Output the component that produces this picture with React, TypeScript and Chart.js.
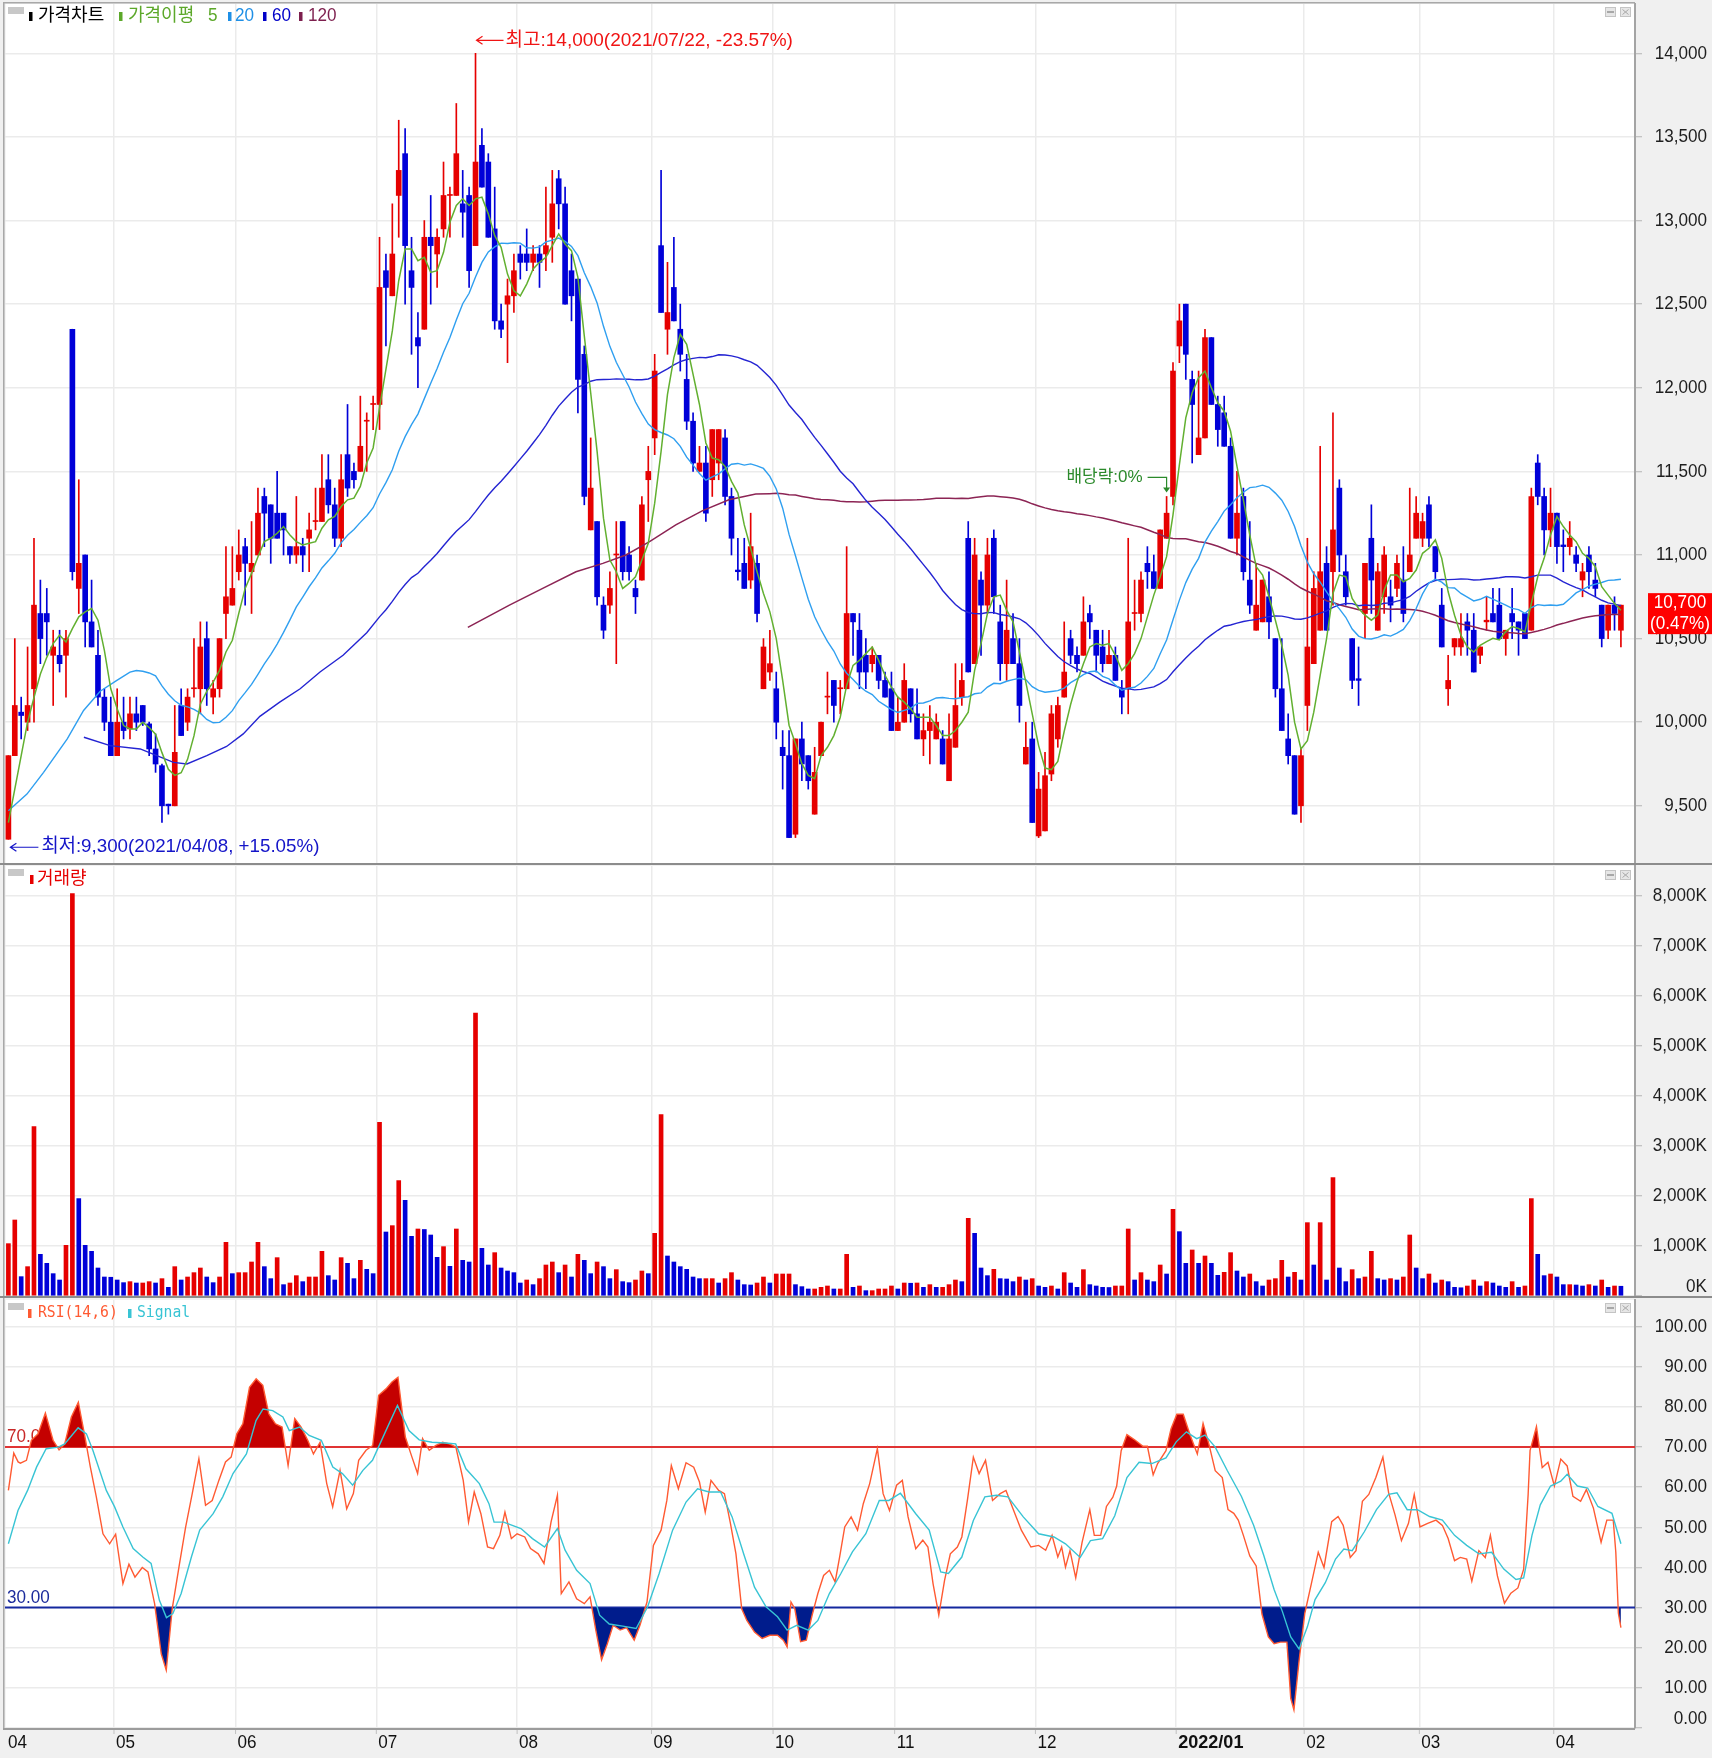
import React, { useEffect, useRef } from 'react';
import { Chart, registerables } from 'chart.js';
Chart.register(...registerables);

const W = 1712;
const X_MIN = -0.53;
const X_MAX = 254.2;
const GRID = '#ebebeb';
const UP = '#e60000';
const DOWN = '#0000d8';
const LABEL = '#1e1e1e';
const AXIS_FONT = "19px 'Liberation Sans', 'DejaVu Sans', sans-serif";
const AX_SX = 0.9;
const KR_FONT = "18px 'Liberation Sans', 'Noto Sans CJK KR', sans-serif";
const NOTE_FONT = "19px 'Liberation Sans', 'Noto Sans CJK KR', sans-serif";

const PRICE_MIN = 9158;
const PRICE_MAX = 14295;
const VOL_MAX = 8600;
const RSI_MAX = 106.65;

// ---- axis labels ----
const monthLabels = ['04', '05', '06', '07', '08', '09', '10', '11', '12', '2022/01', '02', '03', '04'];
const monthStart = [0, 17, 36, 58, 80, 101, 120, 139, 161, 183, 203, 221, 242];
const priceTicks = [9500, 10000, 10500, 11000, 11500, 12000, 12500, 13000, 13500, 14000];
const volumeTicks = [0, 1000, 2000, 3000, 4000, 5000, 6000, 7000, 8000];
const rsiTicks = [0, 10, 20, 30, 40, 50, 60, 70, 80, 90, 100];
const highDate = '2021/07/22';
const lowDate = '2021/04/08';
const dividendIdx = 181;

// ---- daily candles (2021/04/08 .. 2022/04/15) ----
const opens = [
  9300, 9800, 10060, 10000, 10200, 10650, 10650, 10400, 10400, 10400,
  12350, 10800, 11000, 10600, 10400, 10150, 10000, 9800, 10000, 9960,
  10050, 10100, 9990, 9840, 9740, 9510, 9500, 10100, 10000, 10200,
  10200, 10500, 10150, 10200, 10650, 10700, 10900, 11050, 10900, 11000,
  11350, 11300, 11250, 11250, 11050, 11000, 11050, 11100, 11200, 11200,
  11450, 11300, 11100, 11600, 11500, 11500, 11800, 11900, 11900, 12700,
  12550, 13150, 13400, 12700, 12300, 12350, 12900, 12800, 12950, 13150,
  13150, 13100, 13150, 12850, 13450, 13350, 12950, 12400, 12500, 12550,
  12800, 12800, 12750, 12800, 12800, 12900, 13250, 13100, 12700, 12650,
  12200, 11150, 11200, 10700, 10700, 11000, 11200, 11000, 10800, 10850,
  11450, 11700, 12850, 12350, 12600, 12350, 12050, 11800, 11500, 11550,
  11450, 11550, 11700, 11350, 10910, 10950, 10850, 10950, 10200, 10300,
  10200, 9850, 9800, 9330, 9900, 9800, 9450, 9800, 10150, 10250,
  10200, 10200, 10650, 10550, 10400, 10350, 10400, 10250, 10200, 9950,
  10000, 10200, 10050, 9900, 9950, 9900, 9900, 9650, 9850, 10150,
  11100, 10350, 10850, 10700, 11100, 10600, 10350, 10500, 10350, 9750,
  9900, 9320, 9350, 9690, 9900, 10150, 10500, 10400, 10400, 10650,
  10550, 10450, 10350, 10400, 10200, 10200, 10650, 10650, 10950, 10900,
  10800, 11100, 11350, 12250, 12500, 12050, 11600, 11700, 12300, 11900,
  11850, 11650, 11100, 11350, 10850, 10550, 10600, 10750, 10500, 10200,
  9900, 9800, 9500, 10100, 10350, 10550, 10950, 10900, 11400, 10900,
  10500, 10260, 10650, 11100, 10550, 10750, 10750, 10800, 10850, 10900,
  11100, 11100, 11300, 11050, 10700, 10200, 10450, 10450, 10600, 10550,
  10400, 10600, 10650, 10700, 10500, 10650, 10600, 10650, 10550, 11550,
  11350, 11150, 11250, 11060, 11050, 11000, 10850, 11000, 10850, 10700,
  10550, 10700, 10550,
];
const highs = [
  9800, 10500, 10150, 10450, 11100, 10850, 10800, 10550, 10550, 10550,
  12350, 11450, 11000, 10850, 10550, 10200, 10150, 10200, 10150, 10150,
  10150, 10100, 10000, 9930, 9750, 9510, 10100, 10200, 10200, 10500,
  10600, 10600, 10250, 10500, 11050, 11050, 11150, 11100, 11200, 11400,
  11400, 11300, 11500, 11250, 11050, 11350, 11100, 11250, 11400, 11600,
  11600, 11400, 11600, 11900, 11550, 11950, 11850, 11950, 12900, 12800,
  13100, 13600, 13550, 12900, 12450, 13000, 13150, 12950, 13350, 13200,
  13700, 13300, 13200, 14000, 13550, 13400, 13200, 12500, 12650, 12800,
  12850, 12950, 12850, 12850, 13200, 13300, 13300, 13200, 12800, 12650,
  12250, 11700, 11200, 10750, 10900, 11200, 11200, 11050, 10850, 11350,
  11650, 12200, 13300, 12750, 12900, 12500, 12200, 11850, 11650, 11650,
  11750, 11750, 11750, 11400, 11100, 11100, 11250, 11000, 10500, 10550,
  10300, 9950, 9950, 9900, 10000, 9800, 9850, 10000, 10300, 10250,
  10250, 11050, 10650, 10650, 10500, 10450, 10400, 10300, 10300, 10150,
  10350, 10200, 10200, 10050, 10100, 10050, 9950, 10050, 10350, 10350,
  11200, 11100, 10900, 11100, 11150, 10700, 10850, 10650, 10500, 10000,
  10000, 9700, 9820, 10100, 10150, 10600, 10550, 10450, 10750, 10700,
  10550, 10550, 10550, 10450, 10250, 11100, 10850, 10900, 11050, 11000,
  11150, 11350, 12150, 12500, 12500, 12100, 12100, 12350, 12300, 11950,
  11950, 11700, 11500, 11400, 11200, 10950, 10850, 10900, 10500, 10500,
  10050, 9800, 9850, 11100, 10900, 11650, 11050, 11850, 11450, 11000,
  10500, 10450, 10950, 11300, 10950, 11050, 10850, 11000, 11050, 11400,
  11350, 11250, 11350, 11050, 10800, 10400, 10500, 10650, 10650, 10650,
  10450, 10750, 10800, 10800, 10550, 10800, 10600, 10650, 11400, 11600,
  11400, 11400, 11250, 11150, 11200, 11050, 10950, 11050, 10950, 10700,
  10700, 10750, 10700,
];
const lows = [
  9300, 9800, 9900, 9950, 10000, 10350, 10400, 10100, 10300, 10150,
  10850, 10650, 10450, 10450, 10100, 9950, 9800, 9800, 9900, 9900,
  9950, 9980, 9800, 9700, 9400, 9450, 9500, 9920, 9950, 10150,
  10050, 10100, 10050, 10150, 10500, 10700, 10850, 10700, 10650, 11000,
  11050, 10950, 11100, 11000, 10950, 10950, 10900, 10900, 11150, 11200,
  11250, 11050, 11050, 11350, 11400, 11500, 11500, 11750, 11750, 12250,
  12550, 12900, 12500, 12200, 12000, 12350, 12500, 12600, 12900, 12900,
  13150, 12900, 12600, 12850, 13200, 12900, 12350, 12300, 12150, 12450,
  12650, 12700, 12700, 12600, 12700, 12750, 12950, 12500, 12400, 11850,
  11300, 11150, 10700, 10500, 10650, 10350, 10850, 10850, 10650, 10850,
  11200, 11600, 12450, 12200, 12400, 12100, 11750, 11500, 11500, 11200,
  11350, 11450, 11300, 11000, 10850, 10800, 10800, 10600, 10200, 10250,
  9900, 9600, 9310, 9310, 9650, 9600, 9450, 9800, 10050, 10000,
  10050, 10200, 10400, 10200, 10200, 10300, 10200, 10150, 9950, 9950,
  10000, 10000, 9900, 9800, 9750, 9900, 9750, 9650, 9850, 10100,
  10300, 10350, 10400, 10650, 10650, 10250, 10250, 10350, 10000, 9750,
  9400, 9310, 9350, 9650, 9850, 10150, 10350, 10300, 10400, 10500,
  10300, 10300, 10350, 10250, 10050, 10050, 10550, 10600, 10800, 10800,
  10800, 11100, 11300, 12150, 12050, 11550, 11600, 11700, 11900, 11650,
  11650, 11100, 11000, 10850, 10650, 10550, 10600, 10500, 10150, 9950,
  9750, 9450, 9400, 9950, 10350, 10550, 10550, 10700, 10900, 10700,
  10200, 10100, 10500, 10650, 10550, 10650, 10600, 10750, 10600, 10900,
  11100, 11050, 11050, 10850, 10450, 10100, 10400, 10400, 10400, 10300,
  10350, 10550, 10600, 10500, 10400, 10500, 10400, 10500, 10550, 11300,
  11000, 11050, 10950, 10900, 11000, 10900, 10750, 10800, 10750, 10450,
  10500, 10550, 10450,
];
const closes = [
  9800, 10100, 10040, 10100, 10700, 10500, 10600, 10450, 10350, 10500,
  10900, 10950, 10600, 10450, 10150, 10000, 9800, 10000, 9950, 10050,
  10000, 10000, 9840, 9750, 9500, 9500, 9820, 9920, 10150, 10200,
  10450, 10200, 10200, 10500, 10750, 10800, 11000, 10950, 10950, 11250,
  11250, 11100, 11100, 11150, 11000, 11050, 11000, 11150, 11200, 11400,
  11300, 11100, 11450, 11400, 11450, 11650, 11800, 11900, 12600, 12600,
  12800, 13300, 12850, 12600, 12250, 12900, 12850, 12900, 13150, 13150,
  13400, 13050, 12700, 13350, 13200, 12900, 12400, 12350, 12550, 12700,
  12750, 12750, 12800, 12750, 12850, 13100, 13100, 12500, 12550, 12050,
  11350, 11400, 10750, 10550, 10800, 11000, 10900, 10900, 10750, 11300,
  11500, 12100, 12450, 12450, 12400, 12200, 11800, 11550, 11550, 11250,
  11750, 11750, 11350, 11100, 10900, 10800, 11050, 10650, 10450, 10350,
  10000, 9800, 9310, 9900, 9750, 9650, 9700, 10000, 10150, 10100,
  10200, 10650, 10600, 10300, 10300, 10400, 10250, 10150, 9950, 10000,
  10250, 10050, 9900, 9950, 10000, 10000, 9750, 9900, 10100, 10250,
  10300, 11000, 10700, 11000, 10750, 10350, 10550, 10350, 10100, 9850,
  9400, 9600, 9680, 10050, 10100, 10300, 10400, 10350, 10600, 10600,
  10400, 10350, 10400, 10250, 10150, 10600, 10650, 10850, 10900, 10800,
  11150, 11250, 12100, 12400, 12200, 11900, 11700, 12300, 11900, 11750,
  11650, 11100, 11250, 10900, 10700, 10700, 10850, 10600, 10200, 9950,
  9800, 9450, 9800, 10450, 10800, 10900, 10550, 11150, 11000, 10750,
  10250, 10250, 10950, 10850, 10900, 11000, 10700, 10950, 10650, 11000,
  11250, 11200, 11100, 10900, 10450, 10250, 10500, 10500, 10550, 10300,
  10450, 10610, 10600, 10500, 10550, 10600, 10550, 10500, 11350, 11350,
  11150, 11250, 11050, 11050, 11100, 10950, 10900, 10900, 10800, 10500,
  10700, 10650, 10700,
];
// volume in thousands of shares
const volumes = [
  1047, 1520, 387, 587, 3388, 834, 654, 447, 320, 1014,
  8050, 1948, 1014, 894, 560, 380, 375, 320, 267, 287,
  260, 260, 287, 260, 347, 173, 587, 320, 380, 467,
  560, 380, 267, 380, 1074, 447, 467, 467, 680, 1074,
  587, 347, 767, 227, 260, 407, 287, 380, 380, 894,
  407, 320, 767, 654, 347, 714, 534, 447, 3475, 1280,
  1407, 2308, 1914, 1194, 1340, 1330, 1220, 774, 987, 594,
  1340, 714, 680, 5660, 954, 620, 867, 560, 500, 467,
  260, 320, 227, 347, 620, 680, 467, 620, 380, 834,
  714, 447, 680, 587, 347, 527, 287, 267, 320, 500,
  447, 1254, 3628, 800, 680, 587, 534, 380, 347, 347,
  347, 260, 347, 467, 320, 227, 220, 260, 380, 260,
  440, 440, 440, 227, 187, 140, 140, 173, 200, 140,
  140, 834, 173, 200, 107, 107, 140, 140, 200, 140,
  260, 255, 260, 173, 227, 173, 173, 227, 320, 287,
  1554, 1254, 560, 407, 534, 347, 340, 287, 380, 320,
  347, 200, 173, 200, 140, 467, 260, 173, 527, 227,
  200, 173, 170, 200, 200, 1340, 320, 467, 320, 287,
  620, 440, 1734, 1287, 654, 920, 654, 800, 654, 414,
  474, 867, 500, 380, 440, 287, 200, 320, 347, 714,
  380, 474, 320, 1467, 620, 1467, 320, 2368, 560, 287,
  527, 347, 380, 894, 347, 320, 347, 320, 380, 1220,
  560, 347, 440, 260, 320, 287, 173, 165, 200, 320,
  200, 287, 260, 200, 173, 287, 173, 200, 1948, 834,
  407, 440, 380, 227, 227, 220, 200, 227, 200, 320,
  173, 200, 195,
];

const ma5Head: [number, number][] = [[0, 9400], [1, 9600], [2, 9800], [3, 10000]];
const ma20Head: [number, number][] = [[0, 9470], [2.9, 9570], [5.5, 9700], [9.2, 9900], [11.75, 10070], [14.35, 10185], [16.95, 10250]];
const ma60Head: [number, number][] = [[11.8, 9910], [15.9, 9860], [20.6, 9840], [23.2, 9800], [25.8, 9760], [27.9, 9750], [31, 9800], [34.1, 9855], [36.7, 9930], [39.3, 10035], [42.4, 10120], [45.6, 10200], [48.7, 10300], [52.3, 10400], [56, 10535], [58, 10630]];
const ma120Head: [number, number][] = [[71.8, 10567], [78.3, 10700], [83.5, 10800], [88.7, 10900], [92.9, 10950], [96.5, 11000], [100.2, 11080], [104.3, 11180], [108.5, 11265], [112.6, 11330], [116.8, 11365]];

// RSI(14) and its signal [day position, value]
const rsiPoints: [number, number][] = [
  [0, 59.2], [0.84, 68.5], [1.52, 66.3], [1.88, 66], [2.82, 66.7], [3.6, 71.7], [4.64, 73.3], [5.78, 78.5], [6.98, 71.7], [7.92, 69.3],
  [8.8, 70.8], [9.84, 77.5], [10.93, 81.2], [11.92, 72.9], [12.81, 65], [13.74, 57.6], [14.78, 48.4], [15.82, 45.9], [16.76, 48.3], [17.9, 36],
  [18.84, 40.8], [19.78, 37.6], [20.92, 40], [21.81, 38.9], [22.85, 31], [23.89, 18.5], [24.67, 14.4], [25.6, 29.7], [26.75, 41], [27.69, 50],
  [28.73, 58.4], [29.77, 67.1], [30.81, 55.5], [31.85, 56.7], [32.89, 61.7], [33.93, 66.3], [34.81, 67.5], [35.7, 73.3], [36.64, 75.8], [37.68, 84.9],
  [38.72, 87], [39.76, 85.4], [40.69, 78.3], [41.73, 75.8], [42.77, 75], [43.71, 65.4], [44.75, 77.1], [45.74, 75], [46.78, 71.7], [47.67, 68.3],
  [48.71, 71.2], [49.75, 60.9], [50.68, 55.1], [51.83, 64.2], [52.87, 54.6], [53.91, 58.4], [54.74, 66.7], [55.89, 69.2], [56.93, 70.4], [57.86, 82.9],
  [59.01, 84.5], [59.94, 86.2], [60.88, 87.4], [62.03, 72.5], [63.07, 67.5], [63.95, 63.4], [64.73, 72.1], [65.77, 69.2], [66.81, 70.4], [67.85, 71.2],
  [68.89, 70.8], [69.93, 70], [71.08, 61.7], [71.91, 51.3], [72.8, 58.8], [73.84, 53.4], [74.88, 45.1], [75.81, 44.7], [76.8, 48], [77.6, 53.8],
  [78.6, 47.2], [79.5, 48.4], [80.7, 47.6], [81.6, 44.7], [82.8, 43.4], [83.7, 41], [84.8, 51.3], [85.8, 58], [86.4, 33.5], [87.6, 36.4],
  [88.8, 32.2], [90, 31], [90.9, 32.7], [91.8, 24.4], [92.7, 17], [93.6, 21], [94.5, 25.6], [95.6, 24.4], [96.6, 25], [97.8, 21.9],
  [98.7, 25.6], [99.8, 31.4], [100.8, 45.5], [102, 49.3], [102.9, 56.7], [103.6, 65.4], [104.7, 59.6], [105.9, 66.1], [107.1, 65], [108, 61.3],
  [108.9, 53.8], [109.8, 61.7], [111, 59.2], [111.9, 58.4], [112.8, 51.3], [113.7, 43.4], [114.6, 29.7], [115.4, 26.8], [116.6, 23.9], [117.8, 22.3],
  [119, 23.1], [120.2, 23.1], [121.1, 21.9], [121.7, 20.2], [122.3, 31.4], [122.9, 29.7], [123.8, 21.5], [124.7, 21.9], [125.6, 28.1], [126.5, 33.5],
  [127.4, 38], [128.3, 39.3], [129.2, 36.4], [129.9, 42.6], [130.7, 50.1], [131.7, 52.6], [132.7, 49.3], [133.6, 55.9], [134.6, 60.9], [135.8, 69.6],
  [136.7, 58.4], [137.7, 54.2], [138.8, 60.5], [139.7, 61.7], [140.6, 52.6], [141.8, 44.7], [142.9, 46.8], [143.7, 45.1], [144.5, 36], [145.4, 28.1],
  [146.3, 36.8], [147.2, 43.4], [148.3, 45.1], [149, 47.6], [149.9, 57.1], [150.8, 67.5], [151.7, 63.4], [152.7, 66.7], [153.8, 56.7], [155, 58.4],
  [155.9, 59.2], [157.1, 54.2], [158.3, 49.3], [159.8, 45.1], [161, 45.5], [162.1, 44.3], [163.1, 48], [164, 42.6], [164.6, 45.1], [165.2, 40.1],
  [165.9, 44.2], [166.8, 37.4], [167.8, 46.3], [169, 54.4], [169.7, 48], [170.7, 48], [171.6, 55.2], [172.6, 57.5], [173.2, 60.3], [173.9, 69.1],
  [174.8, 73.1], [176.1, 71.7], [177.3, 70.2], [178, 70.2], [178.9, 63.1], [179.6, 65.9], [180.9, 69.1], [181.7, 74.6], [182.6, 78.2], [183.6, 78.2],
  [184.7, 72.9], [185.8, 68.3], [186.7, 75.9], [187.6, 70.8], [188.6, 64.1], [189.7, 62.4], [190.6, 54.4], [191.5, 53.5], [192.2, 51.8], [193, 48],
  [194, 42.9], [195, 40.4], [195.9, 28.4], [196.9, 22.7], [197.8, 21], [198.8, 21.4], [199.8, 21.4], [200.4, 7.4], [200.9, 4.5], [201.7, 16.7],
  [202.6, 28.6], [203.6, 35.8], [204.7, 43.8], [205.6, 40], [206.8, 51.4], [207.8, 52.7], [208.6, 50.5], [209.7, 42.5], [210.6, 44.2], [211.6, 56.5],
  [212.6, 58.2], [213.7, 62.4], [214.8, 67.5], [215.7, 58.6], [216.7, 53.1], [217.7, 46.7], [218.8, 51], [219.7, 58.2], [220.6, 50.1], [221.8, 51],
  [223.1, 51.8], [224.1, 50.5], [225, 47.2], [226, 41.7], [226.9, 42.5], [227.9, 42.1], [228.7, 36.6], [229.8, 44.2], [230.8, 42.5], [231.6, 48],
  [232.7, 37.9], [233.8, 31.1], [234.8, 33.6], [235.9, 34.9], [236.8, 39.6], [237.5, 58.2], [237.8, 69.1], [238.8, 75.1], [239.7, 64.9], [240.6, 66.2],
  [241.6, 60.3], [242.6, 67], [243.6, 65.3], [244.5, 57.7], [245.7, 56.5], [246.6, 59.4], [247.7, 54.8], [248.9, 46.3], [249.8, 51.8], [250.8, 51.8],
  [251.2, 43.8], [251.6, 28.6], [252, 25],
];
const signalPoints: [number, number][] = [
  [0, 45.9], [1.5, 54.2], [3, 59.2], [4.4, 65], [5.9, 69.6], [7.8, 70], [8.8, 70.8], [10.9, 74.8], [12.2, 73.3], [13.2, 69.2],
  [15.3, 59.2], [16.6, 55.1], [17.9, 50.1], [19.5, 44.7], [21, 42.6], [22.3, 41], [23.6, 31.8], [24.7, 27.5], [25.7, 28.5], [27, 33.5],
  [28.6, 42.6], [29.9, 49.3], [32, 53.4], [33.5, 57.6], [35.1, 63.4], [37.2, 68.3], [38.7, 76.6], [39.8, 79.5], [41.3, 79.1], [42.9, 77.5],
  [43.9, 74.1], [45.5, 75], [47, 72.9], [48.9, 71.7], [50.7, 65], [52.2, 63.4], [53.8, 60.5], [55.4, 64.2], [56.9, 66.7], [59, 74.1],
  [60.8, 80.4], [62.6, 74.1], [64.2, 71.8], [66.2, 71.2], [68.3, 71], [69.9, 70.8], [71.5, 64.6], [73.6, 60.9], [75.1, 55.9], [75.9, 51.3],
  [77.4, 51.3], [80.1, 49.7], [81.9, 47.2], [83.8, 45.1], [85.8, 49.7], [87, 44.3], [88.8, 39.3], [90.9, 36], [92.4, 28.1], [93.9, 25.9],
  [96, 25.4], [98.1, 24.8], [99.9, 30.2], [101.7, 38.5], [103.8, 49.3], [105.9, 56.3], [107.7, 59.6], [109.5, 58.8], [111.3, 58.8], [113.1, 52.6],
  [114.9, 43.4], [116.6, 35.1], [118.4, 30.2], [120.2, 27.7], [121.7, 24.4], [123.2, 25.6], [125, 24.4], [126.5, 26.8], [128.3, 33.5], [130.1, 38.5],
  [131.9, 43.9], [134, 48.4], [136.1, 56.7], [137.6, 56.7], [139.4, 58.5], [141.8, 53.4], [143.9, 49.3], [145.7, 38.9], [146.9, 38.5], [149, 42.6],
  [150.8, 51.7], [152.6, 57.6], [154.4, 58], [156.2, 57.6], [158.6, 52.6], [161, 48.4], [163.4, 47.6], [165.2, 45.9], [167.5, 42.5], [169.1, 46.7],
  [171, 47.2], [172.9, 52.9], [174.8, 62.4], [176.7, 66.2], [178.7, 65.9], [180.9, 67.3], [182.5, 71.3], [184.1, 73.8], [185.7, 72.1], [187, 73],
  [188.6, 70], [190.5, 64.1], [192.7, 57.7], [194.6, 50.5], [196.2, 42.9], [197.8, 34.5], [199.1, 29], [200.4, 22.7], [201.7, 19.7], [203, 25.2],
  [204.2, 32], [205.8, 36.2], [207.4, 42.1], [208.7, 44.6], [210, 44.2], [211.9, 48.9], [213.8, 54.4], [215.7, 58.2], [217, 58.6], [218.6, 54.4],
  [220.2, 54.4], [222.1, 52.7], [224.1, 51.8], [226, 48], [227.9, 45.5], [229.8, 43.4], [231.8, 43.8], [233.7, 39.6], [235.6, 37], [236.8, 37.4],
  [238.1, 48], [239.4, 55.6], [241, 60.3], [242.6, 61.5], [243.6, 63.2], [245.2, 60.3], [246.8, 59.8], [248.4, 55.2], [250.6, 53.5], [252, 45.9],
];

// ---------------------------------------------------------------
const candleColors = closes.map((c, i) => (c >= opens[i] ? UP : DOWN));
const volColors = volumes.map((v, i) => (i === 0 || v >= volumes[i - 1] ? UP : DOWN));

function movingAverage(n: number, head: [number, number][]) {
  const pts = head.map(([x, y]) => ({ x, y }));
  for (let i = n - 1; i < closes.length; i++) {
    let s = 0;
    for (let k = i - n + 1; k <= i; k++) s += closes[k];
    pts.push({ x: i, y: s / n });
  }
  return pts;
}

function txt(ctx: any, s: string, x: number, y: number, font: string, color: string, align: string = 'left', sx = 1, maxW?: number) {
  ctx.save();
  ctx.font = font;
  ctx.fillStyle = color;
  ctx.textBaseline = 'middle';
  ctx.textAlign = align;
  ctx.translate(x, y);
  ctx.scale(sx, 1);
  if (maxW) ctx.fillText(s, 0, 0, maxW);
  else ctx.fillText(s, 0, 0);
  ctx.restore();
}

// "←——" leader drawn as a line with an arrow head at its left end
function leftArrow(ctx: any, x0: number, y0: number, len: number, color: string) {
  ctx.save();
  ctx.strokeStyle = color;
  ctx.lineWidth = 1.2;
  ctx.beginPath();
  ctx.moveTo(x0, y0); ctx.lineTo(x0 + len, y0);
  ctx.moveTo(x0 + 6, y0 - 4); ctx.lineTo(x0, y0); ctx.lineTo(x0 + 6, y0 + 4);
  ctx.stroke();
  ctx.restore();
}

function panelIcons(ctx: any, top: number) {
  ctx.save();
  for (const x0 of [1605, 1620]) {
    ctx.fillStyle = '#e6e6e6';
    ctx.fillRect(x0, top, 11, 10);
    ctx.strokeStyle = '#c4c4c4';
    ctx.lineWidth = 1;
    ctx.strokeRect(x0 + 0.5, top + 0.5, 10, 9);
  }
  ctx.fillStyle = '#a8a8a8';
  ctx.fillRect(1607, top + 4, 7, 2);
  ctx.strokeStyle = '#a8a8a8';
  ctx.beginPath();
  ctx.moveTo(1622.5, top + 2.5); ctx.lineTo(1628.5, top + 7.5);
  ctx.moveTo(1628.5, top + 2.5); ctx.lineTo(1622.5, top + 7.5);
  ctx.stroke();
  ctx.restore();
}

function legendBox(ctx: any, top: number) {
  ctx.fillStyle = '#c8c8c8';
  ctx.fillRect(8, top, 16, 7);
}

function marker(ctx: any, x: number, yc: number, color: string) {
  ctx.fillStyle = color;
  ctx.fillRect(x, yc - 4, 3.5, 9);
}

function yLabels(ctx: any, a: any, y: any, ticks: number[], fmt: (v: number) => string) {
  for (const v of ticks) {
    const py = Math.min(Math.max(y.getPixelForValue(v), a.top + 9), a.bottom - 9);
    txt(ctx, fmt(v), 1707, py, AXIS_FONT, LABEL, 'right', AX_SX);
  }
}

const bgPlugin = {
  id: 'bg',
  beforeDraw(chart: any) {
    const { ctx, chartArea: a } = chart;
    ctx.save();
    ctx.fillStyle = '#f0f0f0';
    ctx.fillRect(0, 0, chart.width, chart.height);
    ctx.fillStyle = '#ffffff';
    ctx.fillRect(a.left, a.top, a.right - a.left, a.bottom - a.top);
    ctx.restore();
  },
};

function xScaleOpts(h: number) {
  return {
    type: 'linear', min: X_MIN, max: X_MAX, offset: false,
    grid: { color: GRID, lineWidth: 1.5, drawTicks: false, offset: false },
    border: { display: false },
    ticks: { display: false, autoSkip: false },
    afterBuildTicks: (s: any) => { s.ticks = monthStart.map((m) => ({ value: m - 0.5 })); },
    afterFit: (s: any) => { s.height = h; },
  };
}

function yScaleOpts(min: number, max: number, ticks: number[]) {
  return {
    type: 'linear', position: 'right', min, max, beginAtZero: false,
    grid: { color: GRID, lineWidth: 1.5, drawTicks: true, tickLength: 7, tickColor: '#b4b4b4', tickWidth: 1 },
    border: { display: true, color: '#a4a4a4', width: 2 },
    ticks: { display: false },
    afterBuildTicks: (s: any) => { s.ticks = ticks.map((v) => ({ value: v })); },
    afterFit: (s: any) => { s.width = 77; },
  };
}

function baseOpts(padTop: number, padBottom: number) {
  return {
    responsive: false, maintainAspectRatio: false, animation: false, devicePixelRatio: 1, events: [],
    layout: { padding: { left: 5, right: 0, top: padTop, bottom: padBottom } },
    plugins: { legend: { display: false }, tooltip: { enabled: false } },
  };
}

const fmtPct = (p: number) => (p >= 0 ? '+' : '') + p.toFixed(2) + '%';

const pricePlugin = {
  id: 'priceDecor',
  afterDraw(chart: any) {
    const { ctx, chartArea: a, scales: { x, y } } = chart;
    ctx.save();
    ctx.fillStyle = '#a8a8a8';
    ctx.fillRect(3, 2, 1.5, a.bottom - 2);
    ctx.fillRect(3, 2, a.right - 3, 1.5);
    yLabels(ctx, a, y, priceTicks, (v) => v.toLocaleString('en-US'));

    // legend
    legendBox(ctx, 7);
    const ly = 16;
    marker(ctx, 29, ly, '#000000');
    txt(ctx, '가격차트', 38, ly, KR_FONT, '#000000');
    marker(ctx, 119, ly, '#5ca82a');
    txt(ctx, '가격이평', 128, ly, KR_FONT, '#5ca82a');
    txt(ctx, '5', 208, ly, AXIS_FONT, '#5ca82a', 'left', AX_SX);
    marker(ctx, 228, ly, '#1e8fe6');
    txt(ctx, '20', 235, ly, AXIS_FONT, '#1e8fe6', 'left', AX_SX);
    marker(ctx, 263, ly, '#0000c8');
    txt(ctx, '60', 272, ly, AXIS_FONT, '#0000c8', 'left', AX_SX);
    marker(ctx, 299, ly, '#7d1f4e');
    txt(ctx, '120', 308, ly, AXIS_FONT, '#7d1f4e', 'left', AX_SX);

    // high / low notes
    const last = closes[closes.length - 1];
    const prev = closes[closes.length - 2];
    const hi = Math.max(...highs);
    const hiIdx = highs.indexOf(hi);
    const lo = Math.min(...lows);
    const loIdx = lows.indexOf(lo);
    const hx = x.getPixelForValue(hiIdx) + 1;
    const hy = y.getPixelForValue(hi) - 13;
    leftArrow(ctx, hx, hy, 27, '#f01414');
    txt(ctx, `최고:${hi.toLocaleString('en-US')}(${highDate}, ${fmtPct(((last - hi) / hi) * 100)})`,
      hx + 29, hy, NOTE_FONT, '#f01414', 'left', 1, 288);
    const lx = x.getPixelForValue(loIdx) + 2;
    const lyy = y.getPixelForValue(lo) + 8;
    leftArrow(ctx, lx, lyy, 28, '#1414c8');
    txt(ctx, `최저:${lo.toLocaleString('en-US')}(${lowDate}, ${fmtPct(((last - lo) / lo) * 100)})`,
      lx + 31, lyy, NOTE_FONT, '#1414c8', 'left', 1, 278);

    // ex-dividend marker
    const xd = x.getPixelForValue(dividendIdx);
    const tip = y.getPixelForValue(highs[dividendIdx]) - 4;
    const yl = tip - 15;
    const green = '#2b8a2b';
    txt(ctx, '배당락:0%', xd - 24, yl, "17px 'Liberation Sans', 'Noto Sans CJK KR', sans-serif", green, 'right');
    ctx.strokeStyle = green;
    ctx.lineWidth = 1.2;
    ctx.beginPath();
    ctx.moveTo(xd - 19, yl); ctx.lineTo(xd, yl); ctx.lineTo(xd, tip - 3);
    ctx.stroke();
    ctx.fillStyle = green;
    ctx.beginPath();
    ctx.moveTo(xd - 3.5, tip - 5); ctx.lineTo(xd + 3.5, tip - 5); ctx.lineTo(xd, tip); ctx.closePath();
    ctx.fill();

    // current price box
    const yb = y.getPixelForValue(last);
    ctx.fillStyle = '#ff0000';
    ctx.fillRect(1648, yb - 12, 64, 41);
    txt(ctx, last.toLocaleString('en-US'), 1680, yb - 2, AXIS_FONT, '#ffffff', 'center', AX_SX);
    txt(ctx, `(${(((last - prev) / prev) * 100).toFixed(2)}%)`, 1680, yb + 19, AXIS_FONT, '#ffffff', 'center', AX_SX);

    panelIcons(ctx, 7);
    ctx.fillStyle = '#8c8c8c';
    ctx.fillRect(0, chart.height - 2, W, 2);
    ctx.restore();
  },
};

const volumePlugin = {
  id: 'volDecor',
  afterDraw(chart: any) {
    const { ctx, chartArea: a, scales: { y } } = chart;
    ctx.save();
    ctx.fillStyle = '#a8a8a8';
    ctx.fillRect(3, 0, 1.5, a.bottom);
    yLabels(ctx, a, y, volumeTicks, (v) => v.toLocaleString('en-US') + 'K');
    legendBox(ctx, 4);
    marker(ctx, 30, 14, '#e60000');
    txt(ctx, '거래량', 37, 14, KR_FONT, '#e60000');
    panelIcons(ctx, 5);
    ctx.fillStyle = '#8c8c8c';
    ctx.fillRect(0, chart.height - 2, W, 2);
    ctx.restore();
  },
};

const rsiPlugin = {
  id: 'rsiDecor',
  beforeDatasetsDraw(chart: any) {
    const { ctx, scales: { y } } = chart;
    txt(ctx, '70.00', 7, y.getPixelForValue(70) - 10, AXIS_FONT, '#c82828', 'left', AX_SX);
    txt(ctx, '30.00', 7, y.getPixelForValue(30) - 10, AXIS_FONT, '#1c2c9c', 'left', AX_SX);
  },
  afterDraw(chart: any) {
    const { ctx, chartArea: a, scales: { x, y } } = chart;
    ctx.save();
    ctx.fillStyle = '#a8a8a8';
    ctx.fillRect(3, 0, 1.5, a.bottom);
    ctx.fillStyle = '#9c9c9c';
    ctx.fillRect(3, a.bottom, a.right - 3, 2);
    yLabels(ctx, a, y, rsiTicks, (v) => v.toFixed(2));
    legendBox(ctx, 5);
    marker(ctx, 28, 15, '#ff5a32');
    txt(ctx, 'RSI(14,6)', 38, 15, "16px 'DejaVu Sans Mono', monospace", '#ff5a32', 'left', 0.92);
    marker(ctx, 128, 15, '#38c4d4');
    txt(ctx, 'Signal', 137, 15, "16px 'DejaVu Sans Mono', monospace", '#38c4d4', 'left', 0.92);
    // month labels
    monthStart.forEach((m, k) => {
      const px = Math.max(x.getPixelForValue(m - 0.5), 6) + 2;
      ctx.fillStyle = '#c0c0c0';
      if (k > 0) ctx.fillRect(px - 2.5, a.bottom + 2, 1, 4);
      const bold = monthLabels[k].length > 2;
      txt(ctx, monthLabels[k], px, a.bottom + 15, bold ? "bold 19px 'Liberation Sans', sans-serif" : AXIS_FONT, '#111111', 'left', bold ? 0.95 : AX_SX);
    });
    panelIcons(ctx, 5);
    ctx.restore();
  },
};

function priceConfig(): any {
  const line = (data: any, color: string, width: number, order: number) => ({
    type: 'line', data, borderColor: color, borderWidth: width, pointRadius: 0, fill: false, tension: 0, order,
  });
  return {
    type: 'bar',
    data: {
      datasets: [
        line(movingAverage(5, ma5Head), '#62b030', 1.5, 1),
        line(movingAverage(20, ma20Head), '#2f9ff0', 1.4, 2),
        line(movingAverage(60, ma60Head), '#2424d2', 1.4, 3),
        line(movingAverage(120, ma120Head), '#8c2454', 1.5, 4),
        {
          type: 'bar', data: closes.map((c, i) => ({ x: i, y: [opens[i], c] })),
          backgroundColor: candleColors, barThickness: 5, minBarLength: 1, grouped: false, order: 10,
        },
        {
          type: 'bar', data: closes.map((_, i) => ({ x: i, y: [lows[i], highs[i]] })),
          backgroundColor: candleColors, barThickness: 1, minBarLength: 1, grouped: false, order: 11,
        },
      ],
    },
    options: {
      ...baseOpts(4, 2),
      scales: { x: xScaleOpts(0), y: yScaleOpts(PRICE_MIN, PRICE_MAX, priceTicks) },
    },
    plugins: [bgPlugin, pricePlugin],
  };
}

function volumeConfig(): any {
  return {
    type: 'bar',
    data: {
      datasets: [{
        type: 'bar', data: volumes.map((v, i) => ({ x: i, y: v })),
        backgroundColor: volColors, barThickness: 4, grouped: false,
      }],
    },
    options: {
      ...baseOpts(1, 2),
      scales: { x: xScaleOpts(0), y: yScaleOpts(0, VOL_MAX, volumeTicks) },
    },
    plugins: [bgPlugin, volumePlugin],
  };
}

function rsiConfig(): any {
  const rsi = rsiPoints.map(([x, y]) => ({ x, y }));
  const hline = (v: number, color: string) => ({
    data: [{ x: X_MIN, y: v }, { x: X_MAX, y: v }], borderColor: color, borderWidth: 2, pointRadius: 0, fill: false, order: 6,
  });
  return {
    type: 'line',
    data: {
      datasets: [
        hline(70, '#e03434'),
        hline(30, '#1a2ca4'),
        {
          data: rsi, borderColor: 'rgba(0,0,0,0)', borderWidth: 0, pointRadius: 0, tension: 0, order: 5,
          fill: { target: { value: 70 }, above: '#c40000', below: 'rgba(0,0,0,0)' },
        },
        {
          data: rsi, borderColor: 'rgba(0,0,0,0)', borderWidth: 0, pointRadius: 0, tension: 0, order: 4,
          fill: { target: { value: 30 }, above: 'rgba(0,0,0,0)', below: '#001c8c' },
        },
        { data: rsi, borderColor: '#ff5a32', borderWidth: 1.4, pointRadius: 0, tension: 0, fill: false, order: 2 },
        { data: signalPoints.map(([x, y]) => ({ x, y })), borderColor: '#38c4d4', borderWidth: 1.4, pointRadius: 0, tension: 0, fill: false, order: 1 },
      ],
    },
    options: {
      ...baseOpts(2, 0),
      scales: { x: xScaleOpts(30), y: yScaleOpts(0, RSI_MAX, rsiTicks) },
    },
    plugins: [bgPlugin, rsiPlugin],
  };
}

export default function App() {
  const r1 = useRef<HTMLCanvasElement>(null);
  const r2 = useRef<HTMLCanvasElement>(null);
  const r3 = useRef<HTMLCanvasElement>(null);
  useEffect(() => {
    const charts = [
      new Chart(r1.current as HTMLCanvasElement, priceConfig()),
      new Chart(r2.current as HTMLCanvasElement, volumeConfig()),
      new Chart(r3.current as HTMLCanvasElement, rsiConfig()),
    ];
    return () => charts.forEach((c) => c.destroy());
  }, []);
  const cs = (top: number, h: number): any => ({ position: 'absolute', left: 0, top, width: W, height: h, display: 'block' });
  return (
    <div style={{ position: 'absolute', left: 0, top: 0, width: W, height: 1758, background: '#f0f0f0', overflow: 'hidden' }}>
      <canvas ref={r1} width={W} height={865} style={cs(0, 865)} />
      <canvas ref={r2} width={W} height={433} style={cs(865, 433)} />
      <canvas ref={r3} width={W} height={460} style={cs(1298, 460)} />
    </div>
  );
}
